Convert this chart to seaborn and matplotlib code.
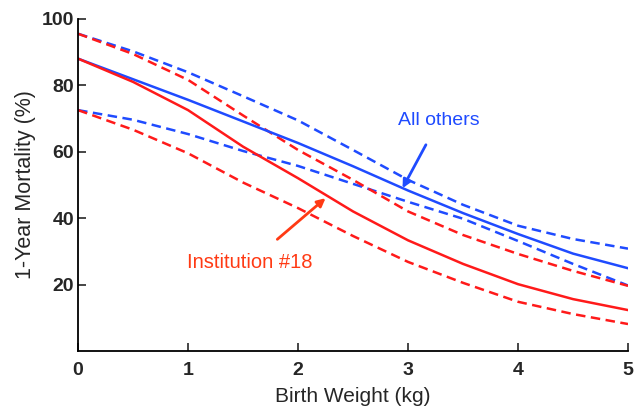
import matplotlib
matplotlib.use("Agg")
import matplotlib.pyplot as plt
import seaborn as sns
import pandas as pd

# birth weight grid (kg)
weight = [0, 0.5, 1, 1.5, 2, 2.5, 3, 3.5, 4, 4.5, 5]

# 1-year mortality (%)
others_fit = [88, 81.8, 75.6, 69.1, 62.6, 55.6, 48.3, 41.5, 35.2, 29.3, 24.9]
others_hi = [95.5, 90.2, 83.9, 76.7, 69.4, 60.5, 51.5, 44, 37.7, 33.7, 30.8]
others_lo = [72.5, 69.6, 65.3, 60.2, 55.7, 50.3, 44.9, 39.8, 33.1, 26.2, 19.7]

inst18_fit = [88, 81, 72.5, 61.5, 52, 42, 33.3, 26.2, 20.1, 15.6, 12.3]
inst18_hi = [95.5, 89.4, 81.6, 70.9, 60.5, 51.5, 42, 34.9, 29.2, 24.1, 19.6]
inst18_lo = [72.5, 66.6, 59.5, 50.7, 43, 34.6, 26.8, 20.5, 14.8, 11.1, 8.1]

x_ticks = [0, 1, 2, 3, 4, 5]
y_ticks = [20, 40, 60, 80, 100]

BLUE = "#1f4bff"
RED = "#ff1a1a"
LABEL_RED = "#ff3a14"

sns.set_style("ticks")
plt.rcParams["font.family"] = ["Liberation Sans", "DejaVu Sans"]

fig = plt.figure(figsize=(6.35, 4.09), dpi=100)
ax = fig.add_axes([0.123, 0.142, 0.866, 0.812])

dash = (3.8, 2.2)
series = [
    (others_hi, BLUE, dash),
    (others_lo, BLUE, dash),
    (inst18_hi, RED, dash),
    (inst18_lo, RED, dash),
    (others_fit, BLUE, None),
    (inst18_fit, RED, None),
]
for vals, col, ds in series:
    df = pd.DataFrame({"w": weight, "m": vals})
    sns.lineplot(data=df, x="w", y="m", ax=ax, color=col, lw=1.8)
    if ds is not None:
        ax.lines[-1].set_dashes(ds)

ax.set_xlim(0, 5)
ax.set_ylim(0, 100)
ax.set_xticks(x_ticks)
ax.set_yticks(y_ticks)
ax.tick_params(direction="in", length=6, width=1.2, labelsize=14)
ax.tick_params(axis="x", pad=8)
ax.tick_params(axis="y", pad=3)
for lab in ax.get_xticklabels() + ax.get_yticklabels():
    lab.set_fontweight("bold")
sns.despine(ax=ax)
for sp in ["left", "bottom"]:
    ax.spines[sp].set_linewidth(1.3)
    ax.spines[sp].set_color("black")

ax.set_xlabel("Birth Weight (kg)", fontsize=15, labelpad=6)
ax.set_ylabel("1-Year Mortality (%)", fontsize=15.5, labelpad=4)

ax.annotate("All others", xy=(2.95, 49), xytext=(3.28, 69.3),
            color=BLUE, fontsize=14, ha="center", va="center",
            arrowprops=dict(arrowstyle="-|>", color=BLUE, lw=2,
                            mutation_scale=12, shrinkA=10, shrinkB=0))
ax.annotate("Institution #18", xy=(2.25, 46), xytext=(1.56, 26.5),
            color=LABEL_RED, fontsize=14.5, ha="center", va="center",
            arrowprops=dict(arrowstyle="-|>", color=LABEL_RED, lw=2,
                            mutation_scale=12, shrinkA=12, shrinkB=0))

fig.savefig("out.png", dpi=100)
